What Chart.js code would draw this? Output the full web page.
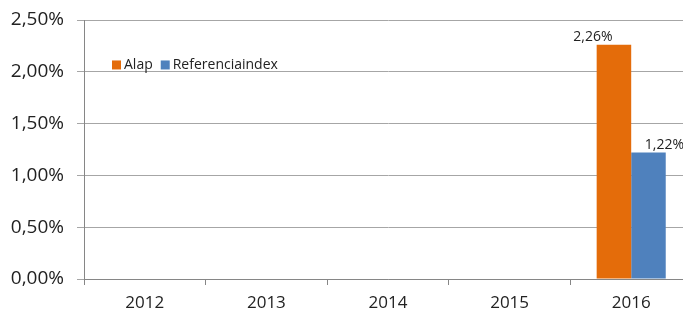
<!DOCTYPE html>
<html>
<head>
<meta charset="utf-8">
<script src="https://cdn.jsdelivr.net/npm/chart.js@4/dist/chart.umd.min.js"></script>
<style>
html,body{margin:0;padding:0;overflow:hidden;background:#fff;width:683px;height:315px;}
#wrap{position:absolute;left:0;top:0;width:700px;height:315px;}
</style>
</head>
<body>
<div id="wrap"><canvas id="c" width="700" height="315"></canvas></div>
<script>
const categories = ['2012', '2013', '2014', '2015', '2016'];
const alapValues = [null, null, null, null, 2.26];
const referenciaValues = [null, null, null, null, 1.22];
const yTicks = [0, 0.5, 1.0, 1.5, 2.0, 2.5];
const seriesNames = ['Alap', 'Referenciaindex'];
const seriesColors = ['#E46C0A', '#4F81BD'];

const FONT = "'Open Sans', 'Liberation Sans', sans-serif";
const fmt = v => v.toFixed(2).replace('.', ',') + '%';
const labelShift = [-21, 16];

const insidePlugin = {
  id: 'inside',
  afterDatasetsDraw(chart) {
    const ctx = chart.ctx;
    ctx.save();
    // data labels
    ctx.font = '14px ' + FONT;
    ctx.fillStyle = '#222';
    ctx.textAlign = 'center';
    ctx.textBaseline = 'alphabetic';
    chart.data.datasets.forEach((ds, di) => {
      const meta = chart.getDatasetMeta(di);
      meta.data.forEach((el, i) => {
        const v = ds.data[i];
        if (v == null) return;
        ctx.fillText(fmt(v), el.x + labelShift[di], el.y - 4);
      });
    });
    // legend inside plot
    const a = chart.chartArea;
    let x = a.left + 28;
    const y = chart.scales.y.getPixelForValue(2.066);
    ctx.textAlign = 'left';
    ctx.textBaseline = 'middle';
    ctx.font = '14px ' + FONT;
    chart.data.datasets.forEach((ds, di) => {
      ctx.fillStyle = ds.backgroundColor;
      ctx.fillRect(x, y - 4.5, 9, 9);
      x += 12;
      ctx.fillStyle = '#222';
      ctx.fillText(ds.label, x, y);
      x += ctx.measureText(ds.label).width + 8;
    });
    ctx.restore();
  }
};

new Chart(document.getElementById('c'), {
  type: 'bar',
  data: {
    labels: categories,
    datasets: [
      { label: seriesNames[0], data: alapValues, backgroundColor: seriesColors[0], categoryPercentage: 0.568, barPercentage: 1 },
      { label: seriesNames[1], data: referenciaValues, backgroundColor: seriesColors[1], categoryPercentage: 0.568, barPercentage: 1 }
    ]
  },
  options: {
    responsive: false,
    animation: false,
    events: [],
    layout: { padding: { top: 20, right: 8, left: 0, bottom: 0 } },
    plugins: { legend: { display: false }, tooltip: { enabled: false } },
    scales: {
      x: {
        offset: true,
        grid: { display: true, drawOnChartArea: false, drawTicks: true, tickLength: 6, color: '#868686', offset: true },
        border: { display: true, color: '#868686', width: 1 },
        ticks: { color: '#222', font: { family: FONT, size: 17 }, padding: 8, maxRotation: 0 },
        afterFit(s) { s.height = 36; s.paddingLeft = 0; s.paddingRight = 0; }
      },
      y: {
        min: 0, max: 2.5,
        afterBuildTicks(s) { s.ticks = yTicks.map(v => ({ value: v })); },
        grid: { color: '#A6A6A6', tickLength: 7, drawTicks: true },
        border: { display: true, color: '#868686', width: 1 },
        ticks: { color: '#222', font: { family: FONT, size: 19 }, padding: 13, callback: v => fmt(v) },
        afterFit(s) { s.width = 84; s.paddingTop = 0; s.paddingBottom = 0; }
      }
    }
  },
  plugins: [insidePlugin]
});
</script>
</body>
</html>
